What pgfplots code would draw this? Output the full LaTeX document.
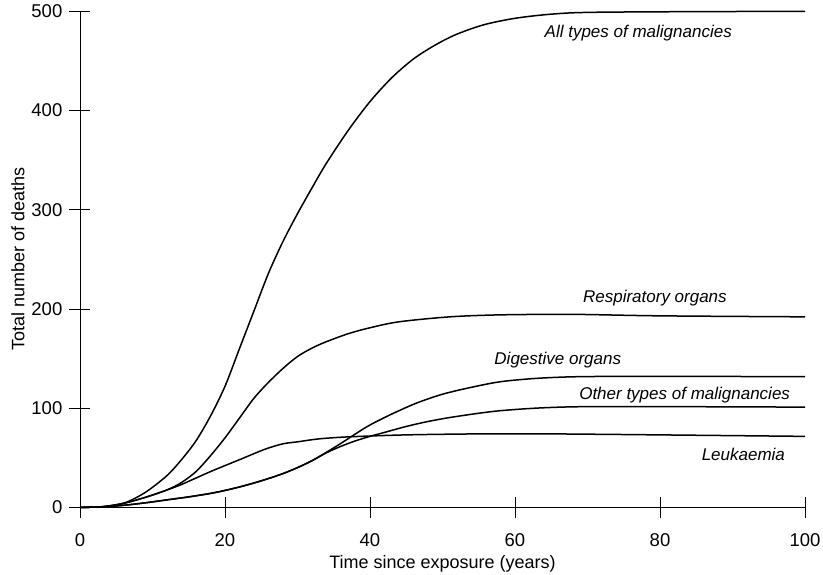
\documentclass[border=0pt]{standalone}
\usepackage{fontspec}
\setmainfont{Liberation Sans}
\usepackage{pgfplots}
\pgfplotsset{compat=1.18}
\begin{document}
\begin{tikzpicture}
\begin{axis}[
  scale only axis, width=725pt, height=496pt,
  xmin=0, xmax=100, ymin=0, ymax=500,
  axis x line*=bottom, axis y line*=left,
  axis line style={-, line width=0.8pt},
  xtick={0,20,40,60,80,100}, ytick={0,100,200,300,400,500},
  tick align=center, major tick length=21pt,
  tick style={line width=0.8pt, black},
  /pgf/number format/assume math mode=true,
  ticklabel style={font=\fontsize{18.5}{21}\selectfont},
  xticklabel style={anchor=north, inner sep=0pt, yshift=-16pt},
  yticklabel style={anchor=east, inner sep=0pt, xshift=-7pt},
  xlabel={Time since exposure (years)},
  ylabel={Total number of deaths},
  every axis x label/.style={at={(axis description cs:0.5,-0.1225)}, anchor=base, font=\fontsize{18}{21}\selectfont},
  every axis y label/.style={at={(axis description cs:-0.0855,0.5)}, rotate=90, anchor=center, font=\fontsize{18}{21}\selectfont},
  clip=false,
]
% All types of malignancies
\addplot[black, line width=1.5pt, smooth, tension=0.5] coordinates {
(0,0) (3,0.6) (6,4) (9,15) (12,32) (14,48) (16,67) (18,92) (20,122) (22,160) (24,198)
(26,236) (28,268) (30,296) (32,322) (34,347) (37,380) (40,409) (43,433) (46,452) (49,466) (52,477)
(56,487) (61,494) (68,498.5) (80,499.5) (100,500)};
% Respiratory organs
\addplot[black, line width=1.5pt, smooth, tension=0.5] coordinates {
(0,0) (3,0.5) (6,4) (9,10) (12,17.5) (14,25) (16,36) (18,52) (20,70) (22,90) (24,110)
(26,126) (28,140) (30,152) (32,160.5) (34,167) (37,175) (40,181) (44,187) (51,192) (58,194) (68,194.5)
(80,193) (100,192)};
% Leukaemia
\addplot[black, line width=1.5pt, smooth, tension=0.5] coordinates {
(0,0) (3,0.5) (6,4) (9,10) (12,17.5) (14,23) (18,36) (22,48) (25.5,58.5) (28,64)
(30,66) (33,69) (37,71) (45,73) (55,74) (65,74) (80,73) (100,71.5)};
% Digestive organs
\addplot[black, line width=1.5pt, smooth, tension=0.5] coordinates {
(0,0) (3,0.3) (6,2) (9,4.5) (12,7.5) (15,10.5) (18,14) (20,17) (22,20.5) (24,24.5) (26,29)
(28,34) (30,40) (32,47) (34,55.5) (36,64.5) (38,74) (40,83) (43,94) (46.4,105) (50,114)
(54,121) (58,126.6) (63,130) (69,131.7) (80,132) (100,131.7)};
% Other types of malignancies
\addplot[black, line width=1.5pt, smooth, tension=0.5] coordinates {
(0,0) (3,0.3) (6,2) (9,4.5) (12,7.5) (15,10.5) (18,14) (20,17) (22,20.5) (24,24.5) (26,29)
(28,34) (30,40) (32,47) (34,55) (36,61.5) (38,67) (40,71.5) (42,75.5) (45,81.5) (48,86.5) (51,90.5)
(55,94.8) (58,97.4) (63,100) (69,101.4) (80,101.5) (100,101)};
\node[font=\fontsize{17}{20}\selectfont\itshape] at (axis cs:77,478) {All types of malignancies};
\node[font=\fontsize{17}{20}\selectfont\itshape] at (axis cs:79.3,211) {Respiratory organs};
\node[font=\fontsize{17}{20}\selectfont\itshape] at (axis cs:65.9,148.5) {Digestive organs};
\node[font=\fontsize{17}{20}\selectfont\itshape] at (axis cs:83.4,113.5) {Other types of malignancies};
\node[font=\fontsize{17}{20}\selectfont\itshape] at (axis cs:91.5,53) {Leukaemia};
\end{axis}
\pgfresetboundingbox
\path[use as bounding box] (-80pt,-66.7pt) rectangle (743pt,507.3pt);
\end{tikzpicture}
\end{document}
